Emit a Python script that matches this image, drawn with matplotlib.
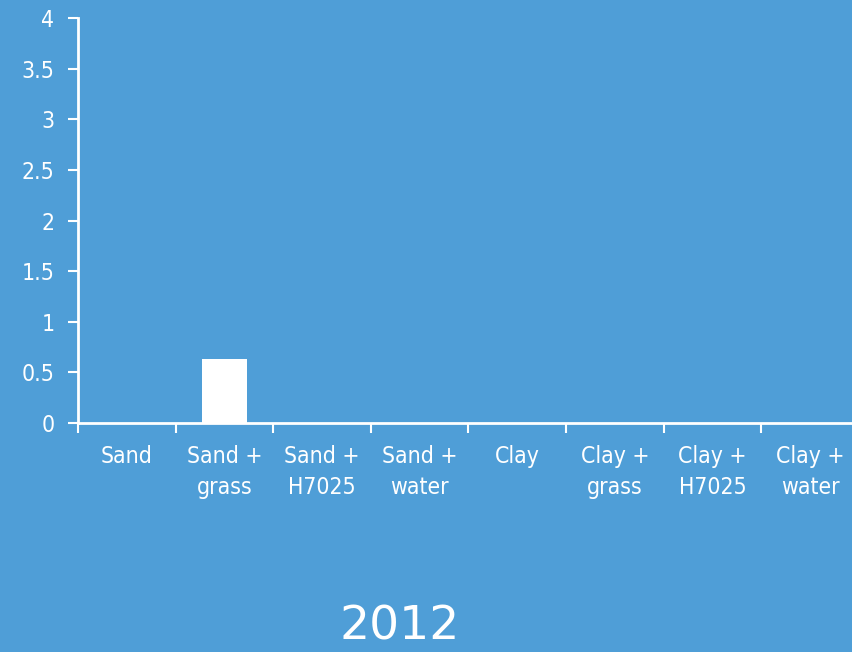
import matplotlib
matplotlib.use('Agg')
import matplotlib.pyplot as plt

# data
categories = ['Sand', 'Sand +\ngrass', 'Sand +\nH7025', 'Sand +\nwater',
              'Clay', 'Clay +\ngrass', 'Clay +\nH7025', 'Clay +\nwater']
values = [0, 0.63, 0, 0, 0, 0, 0, 0]
yticks = [0, 0.5, 1, 1.5, 2, 2.5, 3, 3.5, 4]
ytick_labels = ['0', '0.5', '1', '1.5', '2', '2.5', '3', '3.5', '4']
title = '2012'

bg = '#4F9ED7'
fg = 'white'

fig = plt.figure(figsize=(8.52, 6.52), dpi=100, facecolor=bg)
ax = fig.add_axes([78 / 852, 229 / 652, 780.8 / 852, 405 / 652])
ax.set_facecolor(bg)

x = list(range(len(categories)))
ax.bar(x, values, width=0.46, color=fg)

ax.set_xlim(-0.5, len(categories) - 0.5)
ax.set_ylim(0, 4)

# boundary ticks (marks only) and centered labels
ax.set_xticks([i - 0.5 for i in range(len(categories) + 1)])
ax.set_xticklabels([])
ax.set_xticks(x, minor=True)
ax.set_xticklabels(categories, minor=True, family='DejaVu Sans', stretch='condensed',
                   fontsize=16.5, color=fg, linespacing=1.45)
ax.tick_params(axis='x', which='minor', length=0, pad=16)
ax.tick_params(axis='x', which='major', length=7, width=1.5, color=fg)

ax.set_yticks(yticks)
ax.set_yticklabels(ytick_labels, family='DejaVu Sans', stretch='condensed',
                   fontsize=16.5, color=fg)
ax.tick_params(axis='y', length=7, width=1.5, color=fg, pad=10)

for side in ['top', 'right']:
    ax.spines[side].set_visible(False)
for side in ['left', 'bottom']:
    ax.spines[side].set_color(fg)
    ax.spines[side].set_linewidth(2)

fig.text(400 / 852, 1 - 627 / 652, title, ha='center', va='center',
         fontsize=34, color=fg, family='DejaVu Sans')

fig.savefig('out.png', dpi=100, facecolor=bg)
